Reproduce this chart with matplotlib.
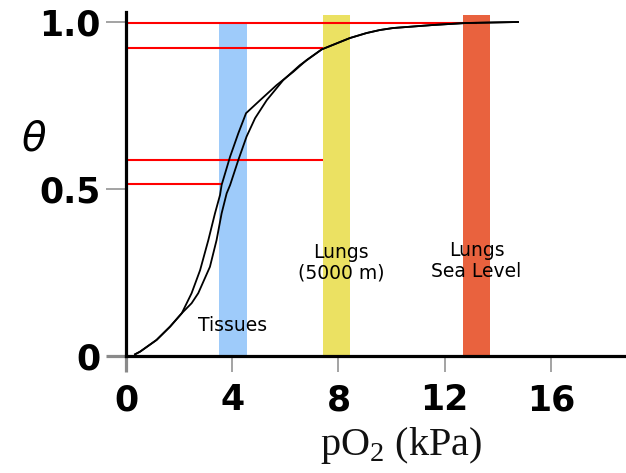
import matplotlib
matplotlib.use("Agg")
import matplotlib.pyplot as plt

# Curve data (pO2 in kPa, saturation theta)
curve_a_x = [0.34, 0.53, 1.15, 1.66, 2.1, 2.47, 2.79, 3.1, 3.35, 3.54, 3.6, 3.92, 4.23, 4.52,
             5.05, 5.67, 6.3, 6.8, 7.37, 8.43, 9.06, 9.56, 10.06, 11.56, 12.8, 14.76]
curve_a_y = [0.005, 0.013, 0.048, 0.088, 0.128, 0.188, 0.257, 0.347, 0.427, 0.482, 0.512, 0.597,
             0.667, 0.727, 0.766, 0.811, 0.851, 0.886, 0.918, 0.952, 0.967, 0.976, 0.982, 0.991,
             0.997, 1.0]
curve_b_x = [0.34, 0.53, 1.15, 1.66, 2.1, 2.47, 2.72, 3.16, 3.41, 3.6, 3.79, 3.92, 4.23, 4.54,
             4.86, 5.3, 5.92, 6.55, 7.37, 8.43, 9.06, 9.56, 10.06, 11.56, 12.8, 14.76]
curve_b_y = [0.005, 0.013, 0.048, 0.088, 0.128, 0.158, 0.188, 0.267, 0.347, 0.427, 0.487, 0.512,
             0.587, 0.657, 0.712, 0.766, 0.826, 0.871, 0.918, 0.952, 0.967, 0.976, 0.982, 0.991,
             0.997, 1.0]

# Coloured bands
band_centers = [4.04, 7.93, 13.19]
band_widths = [1.05, 1.0, 1.02]
band_heights = [1.0, 1.02, 1.02]
band_colors = ["#9ecbfa", "#ebe162", "#e9623e"]
band_labels = ["Tissues", "Lungs\n(5000 m)", "Lungs\nSea Level"]
label_x = [4.03, 8.1, 13.2]
label_y = [0.09, 0.28, 0.285]

# Red reference lines
ref_levels = [0.998, 0.923, 0.587, 0.514]
ref_ends = [13.2, 7.42, 7.42, 3.62]

x_ticks = [0, 4, 8, 12, 16]
x_ticklabels = ["0", "4", "8", "12", "16"]
y_ticks = [0, 0.5, 1.0]
y_ticklabels = ["0", "0.5", "1.0"]

W, H = 626, 473
fig = plt.figure(figsize=(W / 100, H / 100), dpi=100)
x0_px, y0_px = 126, 356
px_per_x = 26.56
px_per_y = 334.0
ax_top_px = 12
ax = fig.add_axes([x0_px / W, (H - y0_px) / H, (W - x0_px) / W, (y0_px - ax_top_px) / H])
ax.set_xlim(0, (W - x0_px) / px_per_x)
ax.set_ylim(0, (y0_px - ax_top_px) / px_per_y)

ax.bar(band_centers, band_heights, width=band_widths, color=band_colors, zorder=1)
for lvl, end in zip(ref_levels, ref_ends):
    ax.plot([0, end], [lvl, lvl], color="#ff0000", lw=1.5, zorder=2, solid_capstyle="butt")
ax.plot(curve_a_x, curve_a_y, color="black", lw=1.3, zorder=3)
ax.plot(curve_b_x, curve_b_y, color="black", lw=1.3, zorder=3)

for t, lx, ly in zip(band_labels, label_x, label_y):
    ax.text(lx, ly, t, ha="center", va="center", fontsize=13.5, color="black",
            family="DejaVu Sans", linespacing=1.1, zorder=4)

for s in ["top", "right"]:
    ax.spines[s].set_visible(False)
for s in ["left", "bottom"]:
    ax.spines[s].set_linewidth(2.3)
    ax.spines[s].set_color("black")
    ax.spines[s].set_zorder(5)

ax.set_xticks(x_ticks)
ax.set_xticklabels(x_ticklabels)
ax.set_yticks(y_ticks)
ax.set_yticklabels(y_ticklabels)
ax.tick_params(axis="x", length=11.5, width=1.1, color="#8a8a8a", pad=8,
               labelsize=25)
ax.tick_params(axis="y", length=14.5, width=1.1, color="#8a8a8a", pad=4,
               labelsize=25)
for lab in ax.get_xticklabels() + ax.get_yticklabels():
    lab.set_fontweight("bold")
    lab.set_family("DejaVu Sans")
ax.xaxis.get_major_ticks()[0].tick1line.set_color("black")
ax.xaxis.get_major_ticks()[0].tick1line.set_markeredgewidth(2.3)
ax.yaxis.get_major_ticks()[0].tick1line.set_color("black")
ax.yaxis.get_major_ticks()[0].tick1line.set_markeredgewidth(2.3)

fig.text(401 / W, 1 - 445 / H, r"pO$_{\mathregular{2}}$ (kPa)", ha="center", va="center",
         fontsize=29, family="Liberation Serif", color="#111111")
fig.text(34 / W, 1 - 139 / H, "θ", ha="center", va="center", fontsize=29,
         style="italic", family="DejaVu Sans", color="black")

fig.savefig("out.png", dpi=100)
